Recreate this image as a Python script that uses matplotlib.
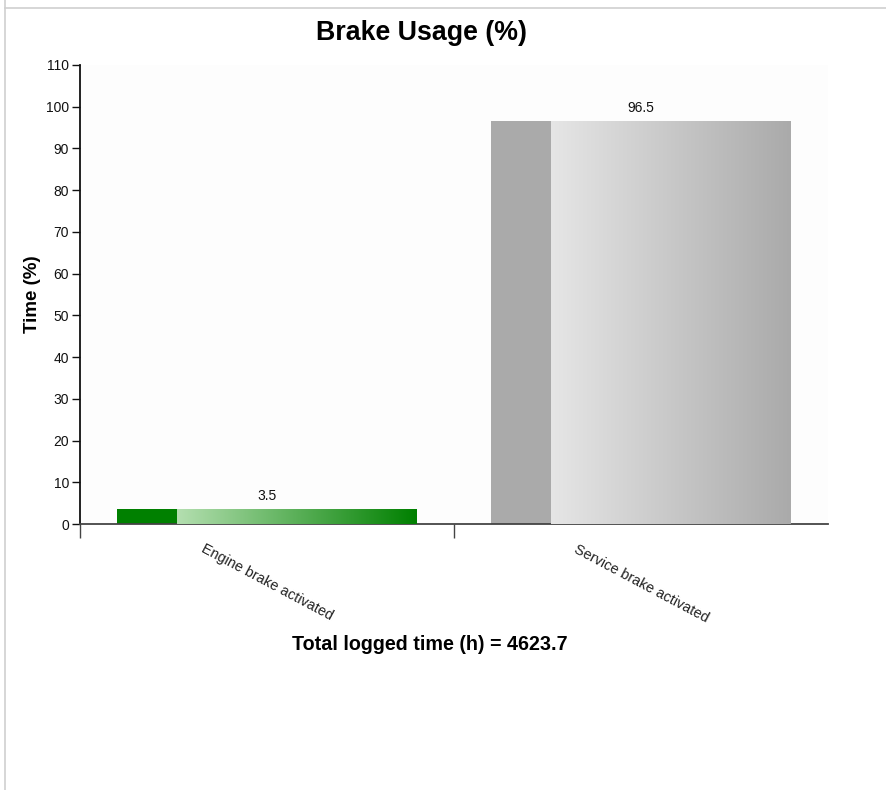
import matplotlib
matplotlib.use("Agg")
import matplotlib.pyplot as plt
import numpy as np
from matplotlib.colors import LinearSegmentedColormap
from matplotlib.lines import Line2D

plt.rcParams['font.family'] = ['Liberation Sans', 'DejaVu Sans']

categories = ["Engine brake activated", "Service brake activated"]
values = [3.5, 96.5]
dark_colors = ["#008000", "#aaaaaa"]
light_colors = ["#b4dfb0", "#e6e6e6"]
yticks = list(range(0, 111, 10))
title = "Brake Usage (%)"
ylabel = "Time (%)"
footer = "Total logged time (h) = 4623.7"

W, H = 886, 790
fig = plt.figure(figsize=(W / 100, H / 100), dpi=100)
fig.patch.set_facecolor("white")

# page border lines
fig.add_artist(Line2D([5 / W, 1], [1 - 8 / H, 1 - 8 / H], color="#cfcfcf", lw=1.2, transform=fig.transFigure))
fig.add_artist(Line2D([5 / W, 5 / W], [0, 1], color="#cfcfcf", lw=1.2, transform=fig.transFigure))

ax = fig.add_axes([80 / W, 1 - 524 / H, (828 - 80) / W, (524 - 65) / H])
ax.set_facecolor("#fdfdfd")

x = np.arange(len(categories))
bars = ax.bar(x, values, width=0.8, color=dark_colors, zorder=2)

for b, dc, lc in zip(bars, dark_colors, light_colors):
    x0, w, h = b.get_x(), b.get_width(), b.get_height()
    gx0 = x0 + 0.2 * w
    cmap = LinearSegmentedColormap.from_list("g", [lc, dc])
    grad = np.linspace(0, 1, 256).reshape(1, -1)
    ax.imshow(grad, cmap=cmap, aspect="auto", extent=[gx0, x0 + w, 0, h],
              zorder=3, interpolation="bilinear")
    ax.text(b.get_x() + w / 2, h + 1.6, f"{h:g}", ha="center", va="bottom",
            fontsize=10, color="#111111", zorder=4)

ax.set_xlim(-0.5, len(categories) - 0.5)
ax.set_ylim(0, 110)

# spines
for s in ["top", "right"]:
    ax.spines[s].set_visible(False)
ax.spines["left"].set_color("#111111")
ax.spines["left"].set_linewidth(1.3)
ax.spines["bottom"].set_color("#444444")
ax.spines["bottom"].set_linewidth(1.3)

ax.set_yticks(yticks)
ax.set_yticklabels([str(t) for t in yticks], fontsize=10, color="#111111")
ax.tick_params(axis="y", length=6, width=1, color="#111111", pad=2)

ax.set_xticks(x)
ax.set_xticklabels(categories, rotation=-28, ha="center", va="top",
                   fontsize=10.4, color="#222222")
ax.tick_params(axis="x", which="major", length=0, pad=13)
ax.set_xticks(np.arange(-0.5, len(categories) - 1, 1.0), minor=True)
ax.tick_params(axis="x", which="minor", length=10, width=1, color="#444444")

ax.set_ylabel(ylabel, fontsize=13.5, fontweight="bold")
ax.yaxis.set_label_coords(-0.052, 0.5)

fig.text(422 / W, 1 - 33 / H, title, ha="center", va="center", fontsize=19.3, fontweight="bold")
fig.text(430 / W, 1 - 645 / H, footer, ha="center", va="center", fontsize=14.2, fontweight="bold")

fig.savefig("out.png", dpi=100)
